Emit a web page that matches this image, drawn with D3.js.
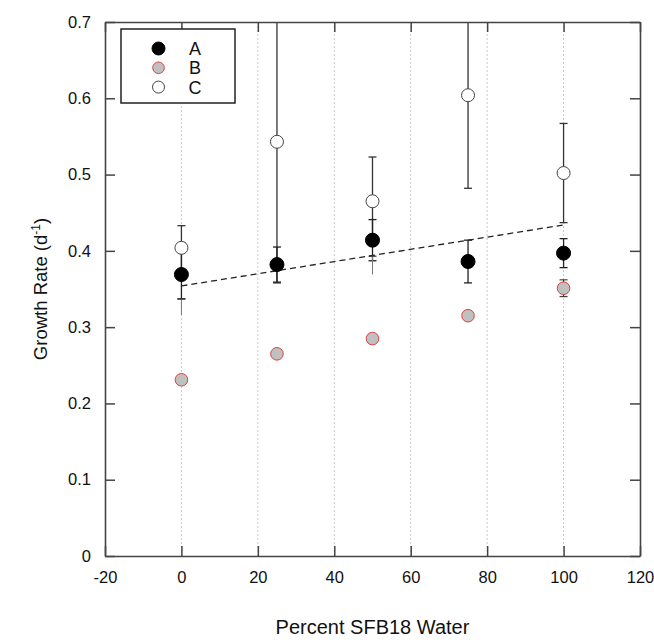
<!DOCTYPE html>
<html>
<head>
<meta charset="utf-8">
<script src="https://cdn.jsdelivr.net/npm/d3@7"></script>
<style>
  body { margin: 0; background: #fff; }
  text { font-family: "Liberation Sans", Arial, sans-serif; fill: #111; }
</style>
</head>
<body>
<script>
const width = 654;
const height = 643;
const margin = { top: 22, right: 14, bottom: 87, left: 105 };

// data
const percent = [0, 25, 50, 75, 100];
const seriesA = [0.369, 0.382, 0.414, 0.386, 0.397];
const errA = [0.032, 0.023, 0.027, 0.028, 0.019];
const seriesB = [0.231, 0.265, 0.285, 0.315, 0.351];
const errB = [0, 0, 0, 0, 0.011];
const seriesC = [0.404, 0.543, 0.465, 0.604, 0.502];
const errC = [0.029, 0.185, 0.058, 0.122, 0.065];
// faint extra whiskers below some points
const tailLow = [0.316, null, 0.369, null, null];
const tailHigh = [0.337, null, 0.393, null, null];
// dashed regression line (end points)
const fitX = [0, 100];
const fitY = [0.354, 0.434];

const xTicks = [-20, 0, 20, 40, 60, 80, 100, 120];
const yTicks = [0, 0.1, 0.2, 0.3, 0.4, 0.5, 0.6, 0.7];
const legendNames = ["A", "B", "C"];

const svg = d3.select("body")
    .append("svg")
    .attr("width", width)
    .attr("height", height);

const x = d3.scaleLinear().domain([-20, 120]).range([margin.left, width - margin.right]);
const y = d3.scaleLinear().domain([0, 0.7]).range([height - margin.bottom, margin.top]);

svg.append("clipPath").attr("id", "plot-clip")
    .append("rect")
    .attr("x", x(-20)).attr("y", y(0.7))
    .attr("width", x(120) - x(-20)).attr("height", y(0) - y(0.7));

// vertical dotted gridlines
svg.append("g")
    .selectAll("line")
    .data(xTicks.slice(1, -1))
    .join("line")
    .attr("x1", d => x(d)).attr("x2", d => x(d))
    .attr("y1", y(0)).attr("y2", y(0.7))
    .attr("stroke", "#c8c8c8")
    .attr("stroke-width", 1)
    .attr("stroke-dasharray", "2,2");

const plot = svg.append("g").attr("clip-path", "url(#plot-clip)");

// regression line
plot.append("line")
    .attr("x1", x(fitX[0])).attr("y1", y(fitY[0]))
    .attr("x2", x(fitX[1])).attr("y2", y(fitY[1]))
    .attr("stroke", "#222")
    .attr("stroke-width", 1.3)
    .attr("stroke-dasharray", "6,4");

// error bars
function errorBars(vals, errs, color, w) {
    const rows = percent.map((p, i) => ({ p, lo: vals[i] - errs[i], hi: vals[i] + errs[i] }))
        .filter(d => d.hi > d.lo);
    const g = plot.append("g").attr("stroke", color).attr("stroke-width", w);
    g.selectAll("line.v").data(rows).join("line")
        .attr("class", "v")
        .attr("x1", d => x(d.p)).attr("x2", d => x(d.p))
        .attr("y1", d => y(d.lo)).attr("y2", d => y(d.hi));
    g.selectAll("line.lo").data(rows).join("line")
        .attr("class", "lo")
        .attr("x1", d => x(d.p) - 4).attr("x2", d => x(d.p) + 4)
        .attr("y1", d => y(d.lo)).attr("y2", d => y(d.lo));
    g.selectAll("line.hi").data(rows.filter(d => d.hi < 0.7)).join("line")
        .attr("class", "hi")
        .attr("x1", d => x(d.p) - 4).attr("x2", d => x(d.p) + 4)
        .attr("y1", d => y(d.hi)).attr("y2", d => y(d.hi));
}
errorBars(seriesC, errC, "#333", 1.3);
errorBars(seriesA, errA, "#222", 1.3);
errorBars(seriesB, errB, "#333", 1.1);

const tails = percent.map((p, i) => ({ p, lo: tailLow[i], hi: tailHigh[i] })).filter(d => d.lo != null);
plot.append("g").selectAll("line").data(tails).join("line")
    .attr("x1", d => x(d.p)).attr("x2", d => x(d.p))
    .attr("y1", d => y(d.lo)).attr("y2", d => y(d.hi))
    .attr("stroke", "#777").attr("stroke-width", 1);
plot.append("g").selectAll("line").data(tails).join("line")
    .attr("x1", d => x(d.p) - 4).attr("x2", d => x(d.p) + 4)
    .attr("y1", d => y(d.hi)).attr("y2", d => y(d.hi))
    .attr("stroke", "#333").attr("stroke-width", 1.2);

// points
const styles = {
    A: { fill: "#000", stroke: "#000", r: 7, sw: 1 },
    B: { fill: "#c0c0c0", stroke: "#e0403c", r: 6.3, sw: 1 },
    C: { fill: "#fff", stroke: "#444", r: 6.5, sw: 1 }
};
const seriesList = [["C", seriesC], ["A", seriesA], ["B", seriesB]];
seriesList.forEach(([name, vals]) => {
    const s = styles[name];
    plot.append("g").selectAll("circle")
        .data(vals)
        .join("circle")
        .attr("cx", (d, i) => x(percent[i]))
        .attr("cy", d => y(d))
        .attr("r", s.r)
        .attr("fill", s.fill)
        .attr("stroke", s.stroke)
        .attr("stroke-width", s.sw);
});

// axes (ticks pointing inward, on all four sides)
const axisColor = "#444";
const axBottom = svg.append("g")
    .attr("transform", `translate(0,${y(0)})`)
    .call(d3.axisBottom(x).tickValues(xTicks).tickSizeInner(-10).tickSizeOuter(0).tickPadding(15).tickFormat(d => String(d)));
const axTop = svg.append("g")
    .attr("transform", `translate(0,${y(0.7)})`)
    .call(d3.axisTop(x).tickValues(xTicks).tickSizeInner(-10).tickSizeOuter(0).tickFormat(""));
const axLeft = svg.append("g")
    .attr("transform", `translate(${x(-20)},0)`)
    .call(d3.axisLeft(y).tickValues(yTicks).tickSizeInner(-10).tickSizeOuter(0).tickPadding(14).tickFormat(d => d === 0 ? "0" : d3.format(".1f")(d)));
const axRight = svg.append("g")
    .attr("transform", `translate(${x(120)},0)`)
    .call(d3.axisRight(y).tickValues(yTicks).tickSizeInner(-10).tickSizeOuter(0).tickFormat(""));

[axBottom, axTop, axLeft, axRight].forEach(a => {
    a.select(".domain").attr("stroke", axisColor).attr("stroke-width", 1.6);
    a.selectAll(".tick line").attr("stroke", axisColor).attr("stroke-width", 1.5);
    a.selectAll("text").attr("font-size", 16.5).attr("fill", "#111")
        .attr("font-family", "\"Liberation Sans\", Arial, sans-serif");
});

// axis titles
svg.append("text")
    .attr("x", (x(-20) + x(120)) / 2)
    .attr("y", 634)
    .attr("text-anchor", "middle")
    .attr("font-size", 20)
    .text("Percent SFB18 Water");

const yTitle = svg.append("text")
    .attr("transform", `translate(47,${(y(0) + y(0.7)) / 2}) rotate(-90)`)
    .attr("text-anchor", "middle")
    .attr("font-size", 18.5);
yTitle.append("tspan").text("Growth Rate (d");
yTitle.append("tspan").attr("font-size", 12).attr("dy", -7).text("-1");
yTitle.append("tspan").attr("dy", 7).text(")");

// legend
const legend = svg.append("g");
legend.append("rect")
    .attr("x", 121).attr("y", 29)
    .attr("width", 114).attr("height", 74)
    .attr("fill", "#fff")
    .attr("stroke", "#222")
    .attr("stroke-width", 1.5);
legendNames.forEach((name, i) => {
    const s = styles[name];
    const cy = 48.5 + i * 19.3;
    legend.append("circle")
        .attr("cx", 158.5).attr("cy", cy)
        .attr("r", s.r - 0.5)
        .attr("fill", s.fill).attr("stroke", s.stroke).attr("stroke-width", s.sw);
    legend.append("text")
        .attr("x", 195).attr("y", cy + 6.5)
        .attr("text-anchor", "middle")
        .attr("font-size", 18)
        .text(name);
});
</script>
</body>
</html>
